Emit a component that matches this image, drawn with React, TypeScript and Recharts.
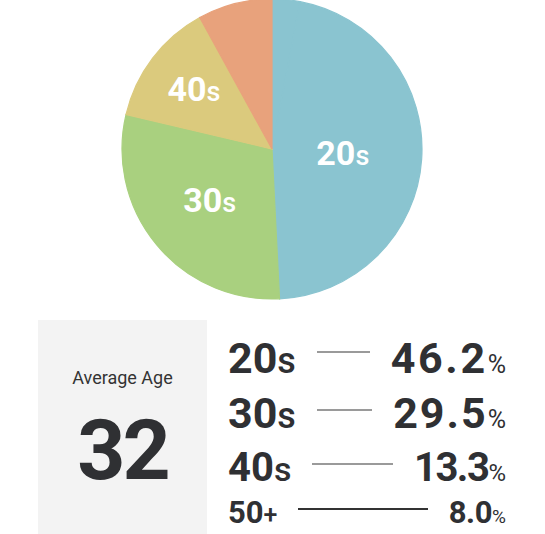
import { PieChart, Pie, Cell } from "recharts"

// age groups
const groups = ["20", "30", "40", "50"]
const suffixes = ["s", "s", "s", "+"]
const shares = [46.2, 29.5, 13.3, 8.0]
// part of the circle not covered by the listed groups (drawn in the 20s colour)
const unlisted = 3.0
const averageAge = 32

const colors = ["#8AC4D0", "#A9D07F", "#DBCA7D", "#E8A27C"]
const labelRadius = [71, 81, 98, 0]

// one entry per table row: baseline y, font sizes, letter spacing of the value, line y, line style
const rowStyles = [
  { base: 373, size: 43, small: 36, pct: 25, track: 2.6, lineY: 352, line: "#9a9a9a", lineH: 2 },
  { base: 428, size: 43, small: 36, pct: 25, track: 2, lineY: 410, line: "#9a9a9a", lineH: 2 },
  { base: 482, size: 40, small: 34, pct: 24, track: -1.5, lineY: 464, line: "#9a9a9a", lineH: 2 },
  { base: 523, size: 31, small: 25, pct: 19, track: -0.4, lineY: 509, line: "#333333", lineH: 1.5 },
]

const pieData = [
  { name: "unlisted", value: unlisted, color: colors[0], idx: -1 },
  ...groups.map((g, i) => ({ name: g + suffixes[i], value: shares[i], color: colors[i], idx: i })),
]

const RAD = Math.PI / 180

function SliceLabel(props: any) {
  const { cx, cy, midAngle, payload } = props
  const i = payload.idx
  if (i < 0 || !labelRadius[i]) return null
  const r = labelRadius[i]
  const x = cx + r * Math.cos(-midAngle * RAD)
  const y = cy + r * Math.sin(-midAngle * RAD)
  return (
    <text x={x} y={y + 11} textAnchor="middle" fill="#ffffff" fontFamily="Roboto" fontWeight={700} fontSize={34}>
      <tspan>{groups[i]}</tspan>
      <tspan fontSize={27} fontWeight={500}>{suffixes[i]}</tspan>
    </text>
  )
}

export default function App() {
  return (
    <div style={{ position: "absolute", left: 0, top: 0, width: 545, height: 534, background: "#fff", fontFamily: "Roboto", color: "#2f3033", overflow: "hidden" }}>
      <div style={{ position: "absolute", left: 0, top: 0 }}>
        <PieChart width={545} height={302} margin={{ top: 0, right: 0, bottom: 0, left: 0 }}>
          <Pie
            data={pieData}
            dataKey="value"
            nameKey="name"
            cx={272}
            cy={149}
            outerRadius={150}
            startAngle={90}
            endAngle={-270}
            label={SliceLabel}
            labelLine={false}
            isAnimationActive={false}
          >
            {pieData.map((d, i) => (
              <Cell key={`cell-${i}`} fill={d.color} stroke={d.color} strokeWidth={1.2} />
            ))}
          </Pie>
        </PieChart>
      </div>

      <div style={{ position: "absolute", left: 38, top: 320, width: 169, height: 214, background: "#f3f3f3" }}>
        <div style={{ position: "absolute", left: 0, right: 0, top: 49, textAlign: "center", fontSize: 18, lineHeight: 1, color: "#333" }}>
          Average Age
        </div>
        <div style={{ position: "absolute", left: 0, right: 0, top: 89, textAlign: "center", fontSize: 84, fontWeight: 700, lineHeight: 1, letterSpacing: -3 }}>
          {averageAge}
        </div>
      </div>

      <div style={{ position: "absolute", left: 228, top: 0, width: 278 }}>
        {groups.map((g, i) => {
          const s = rowStyles[i]
          const top = s.base - 0.84 * s.size
          return (
            <div
              key={g}
              style={{ position: "absolute", left: 0, right: 0, top, height: s.size, display: "flex", alignItems: "baseline", lineHeight: 1, fontSize: s.size, fontWeight: 700 }}
            >
              <span>
                {g}
                <span style={{ fontSize: s.small, fontWeight: 500 }}>{suffixes[i]}</span>
              </span>
              <div style={{ flex: 1, alignSelf: "flex-start", marginTop: s.lineY - top - s.lineH / 2, marginLeft: 21, marginRight: 21, height: s.lineH, background: s.line }} />
              <span>
                <span style={{ letterSpacing: s.track }}>{shares[i].toFixed(1)}</span>
                <span style={{ fontSize: s.pct, fontWeight: 400 }}>%</span>
              </span>
            </div>
          )
        })}
      </div>
    </div>
  )
}
